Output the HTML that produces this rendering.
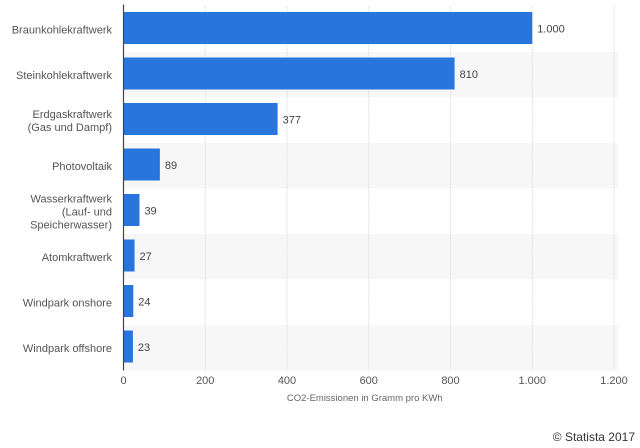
<!DOCTYPE html>
<html><head><meta charset="utf-8"><style>
body{margin:0;width:640px;height:448px;background:#fff;overflow:hidden;font-family:"Liberation Sans","DejaVu Sans",sans-serif;}
svg{display:block}
</style></head><body>
<svg id="chart" width="640" height="448"></svg>
<script>
const categories=[["Braunkohlekraftwerk"],["Steinkohlekraftwerk"],["Erdgaskraftwerk","(Gas und Dampf)"],["Photovoltaik"],["Wasserkraftwerk","(Lauf- und","Speicherwasser)"],["Atomkraftwerk"],["Windpark onshore"],["Windpark offshore"]];
const values=[1000,810,377,89,39,27,24,23];
const valueLabels=["1.000","810","377","89","39","27","24","23"];
const ticks=[0,200,400,600,800,1000,1200];
const tickLabels=["0","200","400","600","800","1.000","1.200"];
const NS="http://www.w3.org/2000/svg";
const svgEl=document.getElementById('chart');
const x0=123.5,x1=614,plotTop=6.5,rowH=45.5,maxV=1200;
const xs=v=>x0+(x1-x0)*v/maxV;
const yr=i=>plotTop+i*rowH;
function mk(t,a,txt){const e=document.createElementNS(NS,t);for(const k in a)e.setAttribute(k,a[k]);if(txt!==undefined)e.textContent=txt;svgEl.appendChild(e);return e;}
categories.forEach((c,i)=>{if(i%2===1){const r=mk('rect',{x:x0,y:yr(i),width:x1-x0+4,height:rowH,fill:'#f7f7f7'});

}});
ticks.forEach((t,i)=>{if(t>0){const l=mk('line',{x1:xs(t),x2:xs(t),y1:plotTop,y2:yr(8),stroke:'#e0e0e0','stroke-dasharray':'2,1'});

}
const tx=mk('text',{x:xs(t),y:384,'text-anchor':'middle','font-size':'11',fill:'#555'},tickLabels[i]);

});
categories.forEach((c,i)=>{
const b=mk('rect',{x:x0,y:yr(i)+5.5,width:xs(values[i])-x0,height:32,fill:'#2775dd'});


const v=mk('text',{x:xs(values[i])+5,y:yr(i)+26,'font-size':'11',fill:'#444'},valueLabels[i]);


const n=c.length,cy=yr(i)+rowH/2;
c.forEach((line,j)=>{const t=mk('text',{x:112,y:cy+4+(j-(n-1)/2)*13,'text-anchor':'end','font-size':'11',fill:'#555'},line);

});
});
const ax=mk('line',{x1:x0,x2:x0,y1:plotTop-2,y2:yr(8),stroke:'#444','stroke-width':'1.2'});


const ttl=mk('text',{x:(x0+x1)/2-4,y:401,'text-anchor':'middle','font-size':'9.5',fill:'#666'},'CO2-Emissionen in Gramm pro KWh');


const cp=mk('text',{x:635,y:441,'text-anchor':'end','font-size':'12',fill:'#333'},'© Statista 2017');


</script>
</body></html>
